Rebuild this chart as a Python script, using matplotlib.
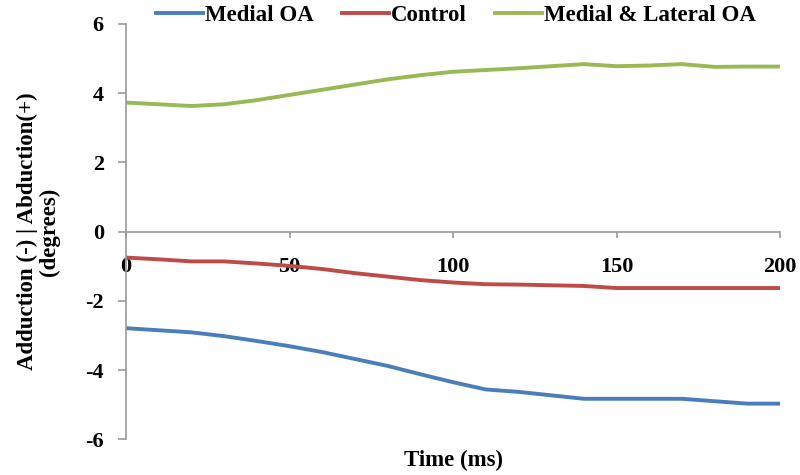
import matplotlib.pyplot as plt

time_ms = [0, 10, 20, 30, 40, 50, 60, 70, 80, 90, 100,
           110, 120, 130, 140, 150, 160, 170, 180, 190, 200]
medial_oa = [-2.79, -2.85, -2.91, -3.02, -3.16, -3.31, -3.48, -3.68, -3.88, -4.12, -4.35,
             -4.56, -4.63, -4.73, -4.83, -4.83, -4.83, -4.83, -4.90, -4.97, -4.97]
control = [-0.75, -0.80, -0.86, -0.86, -0.92, -0.99, -1.08, -1.20, -1.30, -1.40, -1.47,
           -1.52, -1.53, -1.55, -1.57, -1.63, -1.63, -1.63, -1.63, -1.63, -1.63]
medial_lateral_oa = [3.73, 3.68, 3.63, 3.68, 3.80, 3.95, 4.10, 4.25, 4.40, 4.52, 4.62,
                     4.67, 4.72, 4.78, 4.84, 4.78, 4.80, 4.84, 4.76, 4.77, 4.77]

plt.rcParams['font.family'] = ['Liberation Serif', 'DejaVu Serif']
plt.rcParams['font.weight'] = 'bold'
plt.rcParams['axes.unicode_minus'] = False

fig = plt.figure(figsize=(8, 4.75), dpi=100)
ax = fig.add_axes([0.1575, 0.0752, 0.8175, 0.8743])

ax.plot(time_ms, medial_oa, color='#4a7ebb', lw=2.8, label='Medial OA')
ax.plot(time_ms, control, color='#be4b48', lw=2.8, label='Control')
ax.plot(time_ms, medial_lateral_oa, color='#98b954', lw=2.8, label='Medial & Lateral OA')

ax.set_xlim(0, 200)
ax.set_ylim(-6, 6)
ax.set_xticks([0, 50, 100, 150, 200])
ax.set_yticks([-6, -4, -2, 0, 2, 4, 6])

ax.spines['top'].set_visible(False)
ax.spines['right'].set_visible(False)
ax.spines['bottom'].set_position(('data', 0))
for s in ['left', 'bottom']:
    ax.spines[s].set_color('#999999')
    ax.spines[s].set_linewidth(1.2)

ax.tick_params(axis='x', direction='out', length=4, width=1.2, color='#999999',
               pad=14, labelsize=16)
ax.tick_params(axis='y', direction='out', length=6, width=1.2, color='#999999',
               pad=10, labelsize=16)

ax.set_ylabel('Adduction (-) | Abduction(+)\n(degrees)', fontsize=16.5,
              fontweight='bold', labelpad=18, linespacing=1.05)
fig.text(0.567, 0.008, 'Time (ms)', ha='center', va='bottom', fontsize=16.5,
         fontweight='bold')

fig.legend(loc='center', bbox_to_anchor=(0.57, 0.968), ncol=3, frameon=False,
           fontsize=16.5, handlelength=2.05, handletextpad=0.12, columnspacing=1.2)

fig.savefig('out.png', dpi=100)
